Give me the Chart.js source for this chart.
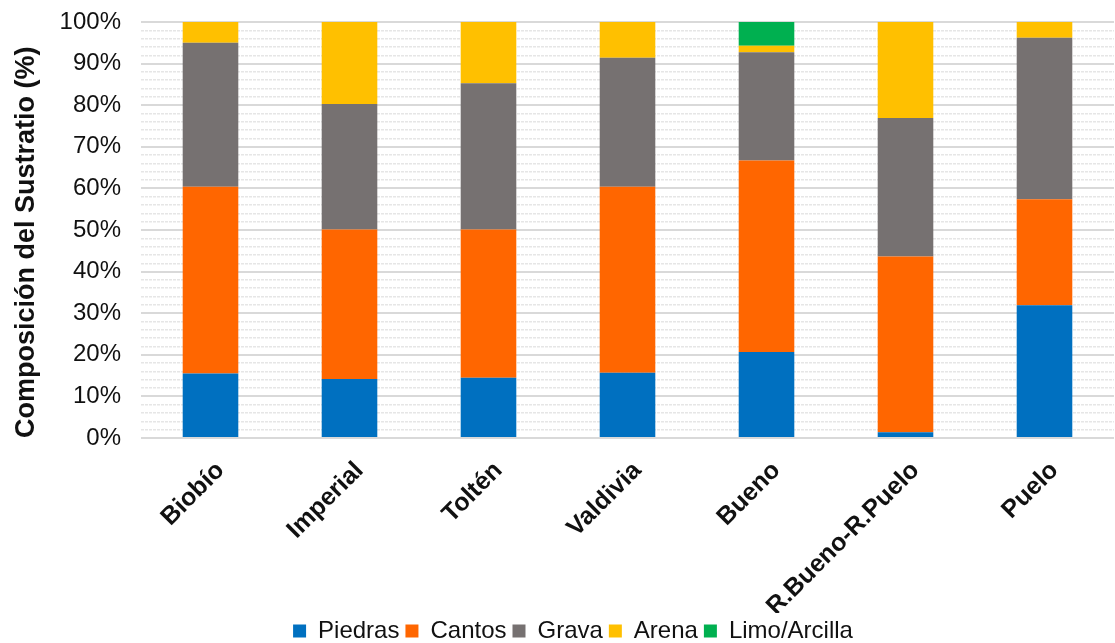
<!DOCTYPE html>
<html>
<head>
<meta charset="utf-8">
<script src="https://cdn.jsdelivr.net/npm/chart.js@4.4.1/dist/chart.umd.min.js"></script>
<style>
  html, body { margin: 0; padding: 0; background: #fff; }
  #wrap { width: 1115px; height: 643px; }
</style>
</head>
<body>
<div id="wrap"><canvas id="sustrato"></canvas></div>
<script>
// rivers along the x-axis
var rivers = ['Biobío', 'Imperial', 'Toltén', 'Valdivia', 'Bueno', 'R.Bueno-R.Puelo', 'Puelo'];
// substrate composition (%) per river
var piedras = [15.5, 14.2, 14.5, 15.7, 20.7, 1.4, 31.9];
var cantos  = [44.9, 35.9, 35.6, 44.7, 46.0, 42.2, 25.5];
var grava   = [34.6, 30.2, 35.2, 31.0, 26.0, 33.3, 38.8];
var arena   = [5.0, 19.7, 14.7, 8.6, 1.6, 23.1, 3.8];
var limo    = [0, 0, 0, 0, 5.7, 0, 0];
// y-axis ticks
var yTicks = [0, 10, 20, 30, 40, 50, 60, 70, 80, 90, 100];

var font = "'Liberation Sans', Arial, sans-serif";

// legend sits a bit right of centre in the original
var legendShift = {
    id: 'legendShift',
    afterLayout: function (chart) {
        chart.legend.left += 16;
        chart.legend.right += 16;
    }
};

window.onload = function () {
    var ctx = document.getElementById('sustrato');
    new Chart(ctx, {
        type: 'bar',
        data: {
            labels: rivers,
            datasets: [
                { label: 'Piedras', data: piedras, backgroundColor: '#0070C0' },
                { label: 'Cantos', data: cantos, backgroundColor: '#FF6600' },
                { label: 'Grava', data: grava, backgroundColor: '#767171' },
                { label: 'Arena', data: arena, backgroundColor: '#FFC000' },
                { label: 'Limo/Arcilla', data: limo, backgroundColor: '#00B050' }
            ]
        },
        plugins: [legendShift],
        options: {
            responsive: true,
            maintainAspectRatio: false,
            animation: false,
            layout: { padding: { top: 22, right: 1, left: 0, bottom: 0 } },
            datasets: { bar: { barPercentage: 0.4, categoryPercentage: 1.0, borderWidth: 0 } },
            plugins: {
                tooltip: { enabled: false },
                legend: {
                    position: 'bottom',
                    maxHeight: 30,
                    labels: {
                        boxWidth: 13,
                        boxHeight: 13,
                        padding: 6,
                        color: '#111',
                        font: { family: font, size: 24 }
                    }
                }
            },
            scales: {
                x: {
                    stacked: true,
                    grid: { display: false },
                    border: { display: false },
                    ticks: {
                        minRotation: 45,
                        maxRotation: 45,
                        padding: 10,
                        labelOffset: 10,
                        color: '#111',
                        font: { family: font, size: 25, weight: 'bold' }
                    },
                    afterFit: function (s) { s.height = 175; }
                },
                y: {
                    stacked: true,
                    min: 0,
                    max: 100,
                    afterBuildTicks: function (s) {
                        s.ticks = yTicks.map(function (v) { return { value: v }; });
                    },
                    grid: {
                        color: '#d9d9d9',
                        lineWidth: 2,
                        drawTicks: true,
                        tickLength: 16,
                        tickColor: 'rgba(0,0,0,0)'
                    },
                    border: { display: false },
                    ticks: {
                        padding: 4,
                        color: '#111',
                        font: { family: font, size: 24 },
                        callback: function (v) { return v + '%'; }
                    },
                    title: {
                        display: true,
                        align: 'start',
                        text: 'Composición del Sustratio (%)',
                        color: '#111',
                        padding: { top: 10, bottom: 0 },
                        font: { family: font, size: 27, weight: 'bold' }
                    },
                    afterFit: function (s) { s.width = 141; }
                },
                yMinor: {
                    position: 'left',
                    min: 0,
                    max: 100,
                    ticks: { display: false, stepSize: 2 },
                    grid: {
                        drawTicks: false,
                        lineWidth: 1.5,
                        color: function (c) {
                            return c.tick && c.tick.value % 10 === 0 ? 'rgba(0,0,0,0)' : '#e6e6e6';
                        }
                    },
                    border: { display: false, dash: [3, 1] },
                    afterFit: function (s) { s.width = 0; }
                }
            }
        }
    });
};
</script>
</body>
</html>
